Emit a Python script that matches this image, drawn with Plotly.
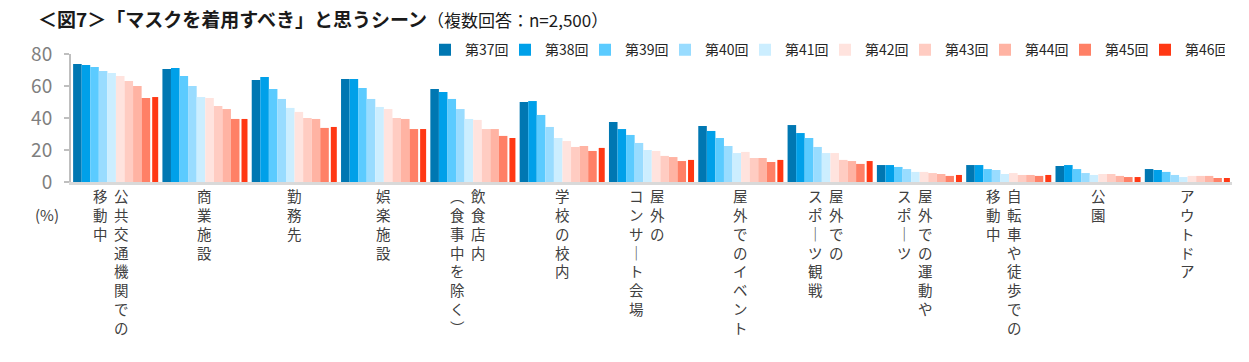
import plotly.graph_objects as go

# ---------------- data ----------------
categories = [
    "公共交通機関での移動中", "商業施設", "勤務先", "娯楽施設", "飲食店内（食事中を除く）",
    "学校の校内", "屋外のコンサート会場", "屋外でのイベント", "屋外でのスポーツ観戦",
    "屋外での運動やスポーツ", "自転車や徒歩での移動中", "公園", "アウトドア",
]
# vertical-writing columns (right column first)
label_columns = [
    ["公共交通機関での", "移動中"], ["商業施設"], ["勤務先"], ["娯楽施設"],
    ["飲食店内", "︵食事中を除く︶"], ["学校の校内"], ["屋外の", "コンサ｜ト会場"],
    ["屋外でのイベント"], ["屋外での", "スポ｜ツ観戦"], ["屋外での運動や", "スポ｜ツ"],
    ["自転車や徒歩での", "移動中"], ["公園"], ["アウトドア"],
]
series_names = ["第37回", "第38回", "第39回", "第40回", "第41回",
                "第42回", "第43回", "第44回", "第45回", "第46回"]
v37 = [73.8, 70.6, 63.8, 64.4, 58.1, 50.0, 37.5, 35.0, 35.6, 10.6, 10.6, 10.0, 8.1]
v38 = [73.1, 71.3, 65.6, 64.4, 56.3, 50.6, 33.1, 31.9, 30.6, 10.6, 10.6, 10.6, 7.5]
v39 = [71.9, 66.3, 58.1, 58.8, 51.9, 41.9, 29.4, 27.5, 27.5, 9.4, 8.1, 8.1, 6.3]
v40 = [69.4, 60.0, 51.9, 51.9, 45.6, 34.4, 24.4, 22.5, 21.9, 8.1, 7.5, 5.6, 4.4]
v41 = [68.1, 53.1, 46.3, 46.9, 39.4, 27.5, 20.0, 18.1, 18.1, 6.3, 5.0, 4.4, 3.1]
v42 = [66.3, 52.5, 43.8, 45.6, 38.8, 25.6, 19.4, 18.8, 18.1, 6.3, 5.6, 5.0, 3.8]
v43 = [63.1, 47.5, 40.0, 40.0, 33.1, 21.9, 16.3, 15.0, 13.8, 5.6, 4.4, 5.0, 3.8]
v44 = [60.0, 45.6, 39.4, 39.4, 33.1, 22.5, 15.6, 15.0, 13.1, 5.0, 4.4, 3.8, 3.8]
v45 = [52.5, 39.4, 33.8, 33.1, 28.8, 19.4, 13.1, 12.5, 11.3, 3.8, 3.8, 3.1, 2.5]
v46 = [53.1, 39.4, 34.4, 33.1, 27.5, 21.3, 13.8, 13.8, 13.1, 4.4, 4.4, 3.1, 2.5]
series_values = [v37, v38, v39, v40, v41, v42, v43, v44, v45, v46]
colors = ["#0077B2", "#00A0E9", "#5BCBFF", "#99DCFF", "#CCEEFF",
          "#FFE3DE", "#FFCCC2", "#FFB3A3", "#FF8066", "#FF3814"]
y_ticks = [0, 20, 40, 60, 80]

FONT = "Noto Sans CJK JP"

# bar geometry in category units
bw = 0.0959
gap46 = 0.0224
w46 = 0.0672
start = -(9 * bw + gap46 + w46) / 2
offsets = [start + i * bw for i in range(9)] + [start + 9 * bw + gap46]
widths = [bw] * 9 + [w46]

fig = go.Figure()
for name, vals, col, off, wd in zip(series_names, series_values, colors, offsets, widths):
    fig.add_trace(go.Bar(x=categories, y=vals, name=name, marker_color=col,
                         marker_line_width=0, offset=off, width=wd))

annotations = []
for cat, cols in zip(categories, label_columns):
    shifts = [0] if len(cols) == 1 else [6, -15]
    for text, sh in zip(cols, shifts):
        annotations.append(dict(
            x=cat, xref="x", y=0, yref="paper", yanchor="top", xanchor="center",
            text="<br>".join(list(text)), showarrow=False, xshift=sh, yshift=-1,
            font=dict(family=FONT, size=14.5, color="#404040"), align="center"))

annotations.append(dict(
    text="(%)", showarrow=False, xref="x domain", yref="y domain",
    x=(47 - 71) / 1161, y=(182.5 - 215) / 128.5, xanchor="center", yanchor="middle",
    font=dict(family=FONT, size=15, color="#404040")))

fig.update_layout(
    width=1249, height=362,
    margin=dict(l=71, r=17, t=54, b=179.5),
    paper_bgcolor="white", plot_bgcolor="white",
    barmode="group",
    font=dict(family=FONT),
    title=dict(
        text="<b>＜図7＞「マスクを着用すべき」と思うシーン</b><span style='font-size:17px'>（複数回答：n=2,500）</span>",
        x=38 / 1249, xanchor="left", xref="container",
        y=1 - 20 / 362, yanchor="middle", yref="container",
        font=dict(family=FONT, size=19, color="#1a1a1a")),
    legend=dict(orientation="h", x=1 - 7 / 1161, xanchor="right", y=1.03, yanchor="middle",
                font=dict(family=FONT, size=14, color="#262626"),
                entrywidth=35, entrywidthmode="pixels", traceorder="normal",
                itemwidth=30, bgcolor="rgba(0,0,0,0)"),
    showlegend=True,
    annotations=annotations,
)
fig.update_xaxes(showticklabels=False, showline=True, linecolor="#D9D9D9", linewidth=3,
                 ticks="", showgrid=False, zeroline=False)
fig.update_yaxes(range=[0, 80], tickvals=y_ticks, showline=True, linecolor="#BFBFBF",
                 linewidth=2, ticks="outside", ticklen=5, tickcolor="#BFBFBF", tickwidth=2,
                 showgrid=False, zeroline=False, ticklabelstandoff=8,
                 tickfont=dict(family=FONT, size=19, color="#7F7F7F"))

fig.write_html("out.html", config={"displayModeBar": False},
               post_script="document.body.style.margin='0';")
